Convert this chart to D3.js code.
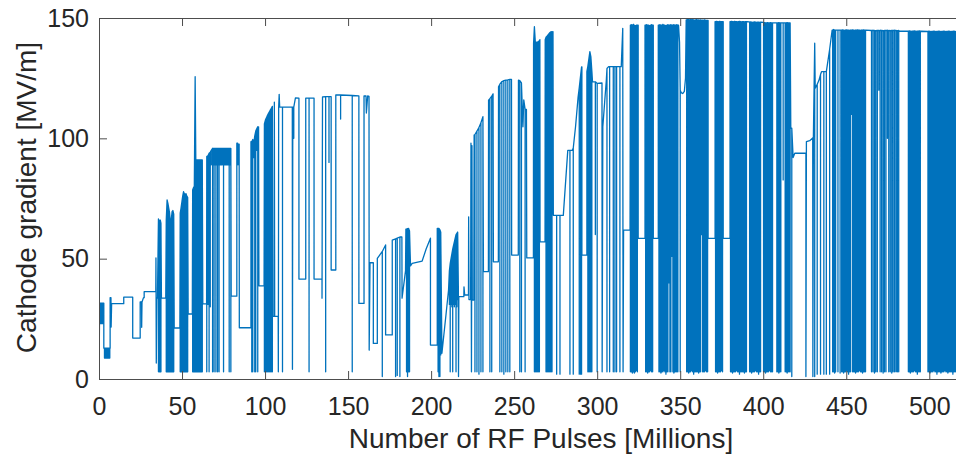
<!DOCTYPE html>
<html><head><meta charset="utf-8">
<script src="https://cdn.jsdelivr.net/npm/d3@7"></script>
<style>body{margin:0;background:#fff;}svg{display:block;}</style>
</head><body>
<svg id="chart" width="956" height="455"></svg>
<script>
// Tick values
const xTicks = [0,50,100,150,200,250,300,350,400,450,500];
const yTicks = [0,50,100,150];
const xLabel = "Number of RF Pulses [Millions]";
const yLabel = "Cathode gradient [MV/m]";

// Trace points: [x, y] or spike [x, yFrom, yTo] (goes yFrom -> yTo -> yFrom)
const era1 = [
[0,1],[0.4,31.5],
[0.7,31.5,23],[1.1,31.5,23],[1.5,31.5,23],[1.9,31.5,23],[2.3,31.5,23],[2.7,31.5,23],
[2.9,31.5],[2.9,12.8],
[3.3,12.8,8.7],[3.7,12.8,8.7],[4.1,12.8,8.7],[4.5,12.8,8.7],[4.9,12.8,8.7],[5.3,12.8,8.7],[5.7,12.8,8.7],[6.1,12.8,8.7],[6.5,12.8,8.7],
[6.7,12.8],[6.7,33.8],[7.2,33.8],[7.3,21.6],[7.6,31.3],[14.9,31.3],[14.9,34],[20.3,34],[20.3,17],[24.8,17],[24.8,32],[25.6,32],[25.7,21.5],[25.9,32],[26.8,33.8],[27.2,33.8],[27.2,36.3],[34.2,36.3],
[34.3,50.3],[34.5,6.6],[34.8,33.6]
];
const era2 = [
[35.2,33.6],[35.8,66.5,3],[36.4,65.5,3],[36.9,66,3],[37.3,64.8,3],[37.6,33.6],[40.2,33.6],
[40.5,66,3],[41.0,74.4,3],[41.5,73,3],[42.0,71,3],[42.5,69,3],[43.0,65,3],[43.5,66,3],[44.0,69.5,3],[44.5,70,3],[45.0,68.5,3],
[45.3,21.2],[48.7,21.2],
[48.9,68.9,3],[49.4,71,3],[49.9,73.5,3],[50.4,76,3],[50.9,77.8,3],[51.4,77,3],[51.9,76.5,3],[52.4,77,3],[52.9,76,3],[53.4,75.5,3],
[53.7,27],[56.2,27],
[56.4,78.5,3],[56.9,79.5,3],[57.4,80,3],[57.9,125.6,3],[58.3,91,3],[58.8,91,3],[59.3,91,3],[59.8,91,3],[60.3,91,3],[60.8,91,3],[61.3,91,3],[61.8,91,3],[62.2,91,3],
[62.5,31.2],[64.8,31.2],
[64.9,92.4,3],[65.6,92.8,31],[66.3,93.8,3],[67.0,94.2,30],[67.6,95,89],[68.4,95.8,3],[68.9,95.8,89],[69.3,95.8,3],[69.8,95.8,89],[70.4,95.8,3],[70.9,95.8,89],[71.4,95.8,3],[71.9,95.8,89],[72.3,95.8,3],[72.8,95.8,89],[73.3,95.8,89],[73.8,95.8,89],[74.3,95.8,89],[75.0,95.8,3],[75.5,95.8,89],[76.0,95.8,89],[76.5,95.8,89],[77.0,95.8,89],[77.5,95.8,89],[78.0,95.8,89],[78.4,95.8,3],[78.9,95.8,89],[79.4,95.8,3],
[79.6,34.4],[83.0,34.4],[83.0,98],[83.5,98],[83.7,89],[84.1,97.6],[84.4,97.6],[84.5,21.3],[91.5,21.3]
];
const era2b = [
[91.5,98.6],[92.0,98.6,3],[92.6,99.5,3],[93.2,98,92],[93.8,101,3],[94.4,103,3],[95.0,104,95],[95.6,104.8,3],[96.1,104.8],
[96.3,38.7],[99.4,38.7],
[99.6,106,3],[100.2,107.6,3],[100.8,108.5,3],[101.4,109.5,3],[102.0,110.3,3],[102.6,111,3],[103.2,111.8,3],[103.8,112.5,3],[104.4,113.3,3],
[104.6,26],[105.5,26],[105.6,115],[105.8,26],[107.9,26],[108.0,3],[108.2,113],[108.5,118.3],[108.8,113],[110.5,113,3],[116.4,113],[116.5,4],[116.7,113],[117.3,113,100],[118.3,116.8],
[120.4,116.7],[120.4,41.5],[124.5,41.5],[124.5,116.7],[126.5,116.7,3],[129.5,116.7],[129.5,41.5],[134.3,41.5],[134.3,33.6],[134.6,117.2],[136.5,117.3,3],[138.5,117.3,90],[139.8,117.3],[139.8,45.3],[142.6,45.3],[142.6,118],[145.5,118,108],[152.5,117.8,3],[156.5,117.6],[156.5,31.4],[159.6,31.4],[159.6,117.6],[160.8,117.6],[161.0,110.5],[161.8,117.6],[162.6,117.4],[162.7,12]
];
const era3 = [
[163.2,48.3],[165.2,48.3],[165.2,14.8],[167.6,14.8],[167.6,50.1],[168.6,51.1],[170.6,53,1],[172.6,55.7],[172.6,18.3],[176.6,18.3],[176.6,57.7],[178.6,58.2,1],[179.6,58.5,1.5],[181.2,59,1],[182.4,59],[182.5,33.6],[184.6,45],[184.8,62.3],[185.2,62.3,3],[185.8,62.5,1],[186.4,62.6,3],[187.0,61.5,3],[187.6,47],[188.6,48],[194.6,49],[197.0,54],[199.6,58.5],[199.6,14.1],[203.7,14.1],[203.7,62.6],[204.2,62.6,3],[204.7,62.6,1],[205.3,62,1],[205.8,61,10],[206.5,10.7],[209.0,27],[210.5,37],
[211.0,45,31],[211.5,48,3],[212.0,50,31],[212.5,52,30],[213.0,54,3],[213.5,55.5,31],[214.0,57,30],[214.5,58.5,31],[215.0,60,3],[215.5,60.5,30],[216.0,61,33],
[216.4,38.3],[216.5,1],[216.7,34.2],[219.7,34.2],[219.8,38.3],[220.2,34.9],[222.5,35],[222.6,67.4],[222.8,33],[223.8,33],[224.0,98],[224.3,3],[224.6,97],[224.8,32.8]
];
const era4 = [
[225.7,32.8],[225.9,101.4],[226.4,101.6,3],[227.6,103,3],[228.8,104.5,2],[230.0,106.5,3],[231.2,109,3],
[231.5,44.6],[234.5,44.6],[234.6,115.9],[235.4,116.5,3],[236.5,117.5,3],[237.3,118.5],
[237.5,48.7],[240.5,48.7],[240.6,121.4],[241.4,122.5,3],[242.6,123.5,3],[243.8,124,2],[245.0,124.2,3],[246.2,124.3,3],[247.4,124.5,3],[248.4,124.5],
[248.5,51.5],[252.5,51.5],[252.6,124.2],[253.4,124,3],[254.4,123,3],[255.3,104.8],[255.8,116],[256.6,112,3],[257.4,112],
[257.6,50.3],[261.6,50.3],[261.7,139.5],[262.2,146.4,3],[262.8,139.5,3],[263.4,140,3],[264.0,139.8,3],[264.6,140.2,3],[265.2,140.5,3],[265.5,141],
[265.6,57],[268.6,57],[268.7,141],[269.2,142,3],[269.8,142.5,3],[270.4,143,3],[271.0,143.5,3],[271.6,144,3],[272.2,144.3,3],[272.8,144.2,3],[273.4,144.3],
[273.6,68],[275.6,68,2],[277.6,68,2],[279.6,68],
[282.3,95],[283.6,95,2],[285.0,95],[285.6,96,2],[287.0,105],[288.5,117],[289.2,121,2],[290.0,126,2],[290.6,129.7,2],[290.8,129.7],
[290.8,51.5],[293.8,51.5],[293.8,127.7],[294.4,130,3],[295.0,133,3],[295.6,136,3],[296.2,134,3],[296.8,128,3],[297.2,123.5],
[298.9,123.5,60],[300.0,122.8,3],[302.9,123],[303.0,3],[303.4,104.8],[304.5,115],[305.5,124],[305.9,129,3],[306.9,129.8],
[307.5,129.8,3],[309.7,129.8,3],[310.7,129.8,3],[311.7,129.8,3],[313.7,129.8,3],[314.5,129.8]
];
const era5 = [
[315.4,145.7],[315.6,3],[315.9,61.9],[319.8,61.9],
[320.0,147,3],[320.6,147.2,3],[321.2,147,2.5],[321.8,147.3,3],[322.4,147,2.5],[323.0,146.8,3],[323.6,147,3.5],[324.2,147,3],
[324.7,147],[324.7,58.4],[328.8,58.4],[328.8,147],
[329.2,147,3],[329.8,147.2,3],[330.4,147,2.5],[331.0,147,3],[331.6,146.8,3],[332.2,147,3.5],[332.8,147.2,3],[333.4,147,3],
[333.8,147],[333.8,58.4],[336.8,58.4],[336.8,147],
[337.2,147,3],[337.8,147.2,3],[338.4,147,2.5],[339.0,147,3],[339.6,147.3,3],[340.2,147,3.5],[340.8,147,3],[341.4,146.8,2],[342.0,147,3],[342.6,147.2,3],[343.2,147,40],[343.8,147,3],[344.4,147.2,3],[345.0,147,51],[345.6,147,3],[346.2,147.2,2.5],[346.8,147,3],[347.4,147,3],[348.0,147.2,3],[348.6,147,3],
[349.0,147],[349.6,140],[350.0,120,3],[350.6,119],[351.5,118.6],[352.5,119.5],[353.2,125],[353.6,149.2],
[353.9,149.2,3],[354.5,149.5,3],[355.1,149.3,2.5],[355.7,149.2,3],[356.3,149.4,3],[356.9,149.2,3.5],[357.5,149.3,3],[358.1,149.2,2],[358.7,149,3],[359.3,149.2,3],[359.9,149.3,3],[360.5,149.1,3],[361.1,149.2,2.5],[361.7,149,3],[362.3,149.2,3],[362.9,149,60],[363.5,149.1,3],[364.1,149,3],[364.7,149.2,3],[365.3,149,3.5],[365.9,149,3],[366.5,149,3],
[366.8,149],[366.8,58.4],[371.0,58.4],[371.0,148.5],
[371.3,148.5,3],[371.9,148.6,3],[372.5,148.5,2.5],[373.1,148.4,3],[373.7,148.6,3],[374.3,148.5,3],[374.9,148.5,3.5],[375.5,148.5,3],
[375.9,148.5],[375.9,58.4],[380.0,58.4],[380.0,148.5],
[380.3,148.5,3],[380.9,148.6,3],[381.5,148.5,2.5],[382.1,148.4,3],[382.7,148.6,3],[383.3,148.5,3],[383.9,148.5,3.5],[384.5,148.4,3],[385.1,148.5,3],[385.7,148.6,2],[386.3,148.5,3],[386.9,148.4,3],[387.5,148.5,3],[388.1,148.5,3],[388.7,148.4,2.5],[389.3,148.5,3],[389.9,148.5,3],
[390.2,148.5],[391.5,148.4],
[391.8,148.3,3],[392.4,148.4,3],[393.0,148.3,2.5],[393.6,148.2,3],[394.2,148.3,3],[394.8,148.4,3],[395.4,148.3,3.5],[396.0,148.2,3],[396.6,148.3,3],[397.2,148.3,2],[397.8,148.2,3],[398.4,148.3,3],
[398.6,148.3],[400.0,148.2],
[400.2,148,3],[400.8,148.1,3],[401.4,148,2.5],[402.0,148,3],[402.6,148.1,3],[403.2,148,3],[403.8,148,3.5],[404.4,148.1,3],[405.0,148,3],[405.6,148,3],
[405.9,148],[408.0,148],
[408.2,148,3],[408.8,148,3],[409.4,148.1,2.5],[410.0,148,3],[410.6,148,3],
[411.0,148],[412.0,148,82.7],[413.0,148],
[413.2,148,3],[413.8,148,3],[414.4,148.1,2.5],[415.0,148,3],[415.6,148,3],
[416.2,148,3],[416.6,104.2],[417.2,104.2,1],[418.0,92],[419.0,93.8],[425.7,93.8],[425.7,1],[426.0,98.6],[428.0,99],[429.8,100.2],[429.9,1],[430.2,100.2],[431.0,139.5,1],[431.3,120.8],[432.5,122.5,2],[433.5,124],[434.5,126.5,2],[435.1,127.7],[436.5,127.7,2],[438.0,127.7,2],[440.0,137,2],[441.5,145]
];
const era6 = [
[441.8,145,3],[442.4,145.2,3],[443.0,145,2.5],[443.6,145,3],
[445.0,145,3],[446.3,145,2.5],
[447.2,145,3],[447.8,145.1,3],[448.4,145,2.5],[449.0,144.9,3],[449.6,145,3],[450.2,145.1,3.5],[450.8,145,3],[451.4,145,2],[452.0,144.9,3],[452.6,145,3],[453.2,145,110],[453.8,145.1,3],[454.4,145,3],[455.0,144.9,3],[455.6,145,2.5],[456.2,145,3],[456.8,145.1,3],[457.4,145,3],[458.0,145,3.5],[458.6,144.9,3],[459.2,145,3],[459.8,145,2.5],[460.4,145.1,3],[461.0,145,3],[461.6,145,3],
[462.0,145],[465.0,144.8],
[465.2,144.8,3],[466.1,144.9,3],[467.0,144.8,2.5],[467.8,144.7,3],[468.7,144.8,3],[469.6,144.8,120],[470.4,144.9,3],[471.3,144.8,3],[472.2,144.7,2.5],[473.0,144.8,3],[473.9,144.8,3],[474.8,144.9,100],[475.6,144.8,3],[476.5,144.7,3],[477.4,144.8,2.5],[478.2,144.8,3],[479.1,144.9,3],[480.0,144.8,3],[480.8,144.7,3],[481.6,144.8,3],
[482.0,144.6],[487.0,144.5],
[487.4,144.5,3],[488.0,144.6,3],[488.6,144.5,2.5],[489.2,144.4,3],[489.8,144.5,3],[490.4,144.5,3],[491.0,144.6,3.5],[491.6,144.5,3],[492.2,144.4,3],[492.8,144.5,2],[493.4,144.5,3],[494.0,144.6,3],[494.6,144.5,3],
[495.0,144.5],[499.0,144.4],
[499.2,144.4,3],[499.8,144.5,3],[500.4,144.4,2.5],[501.0,144.3,3],[501.6,144.4,3],[502.2,144.4,3],[502.8,144.5,3.5],[503.4,144.4,3],[504.0,144.3,3],[504.6,144.4,2],[505.2,144.4,3],[505.8,144.5,3],[506.4,144.4,3],[507.0,144.3,2.5],[507.6,144.4,3],[508.2,144.4,3],[508.8,144.5,3],[509.4,144.4,3.5],[510.0,144.3,3],[510.6,144.4,3],[511.2,144.4,2.5],[511.8,144.5,3],[512.4,144.4,3],[513.0,144.3,3],[513.6,144.4,3],[514.2,144.4,2],[514.8,144.5,3],[515.4,144.4,3],[516.0,144.3,3],[516.6,144.4,3],[517.2,144.4,2.5],[517.8,144.4,3]
];

const trace = [].concat(era1, era2, era2b, era3, era4, era5, era6);
const points = [];
trace.forEach(d => {
  if (d.length === 3) { points.push([d[0], d[1]], [d[0], d[2]], [d[0], d[1]]); }
  else points.push([d[0], d[1]]);
});

const svg = d3.select('#chart');
const FONT = '"Liberation Sans", Arial, Helvetica, sans-serif';
const x = d3.scaleLinear().domain([0, 520]).range([99, 962.5]);
const y = d3.scaleLinear().domain([0, 150]).range([379, 18]);

svg.append('defs').append('clipPath').attr('id', 'clip')
  .append('rect').attr('x', x(0)).attr('y', y(150) - 1).attr('width', x(520) - x(0)).attr('height', y(0) - y(150) + 1);

svg.append('path')
  .datum(points)
  .attr('clip-path', 'url(#clip)')
  .attr('fill', 'none')
  .attr('stroke', '#0072BD')
  .attr('stroke-width', 1.3)
  .attr('stroke-linejoin', 'round')
  .attr('d', d3.line().x(d => x(d[0])).y(d => y(d[1])));

const axisColor = '#4d4d4d';
function styleAxis(g) {
  g.attr('font-family', FONT).attr('font-size', 25);
  g.select('.domain').attr('stroke', axisColor);
  g.selectAll('.tick line').attr('stroke', axisColor);
  g.selectAll('.tick text').attr('fill', '#262626');
}

svg.append('g').attr('transform', `translate(0,${y(0)})`)
  .call(d3.axisBottom(x).tickValues(xTicks).tickSizeInner(-8).tickSizeOuter(0).tickPadding(36))
  .call(styleAxis)
  .call(g => g.selectAll('.tick text').attr('dy', null).attr('y', 36));

svg.append('g').attr('transform', `translate(0,${y(150)})`)
  .call(d3.axisTop(x).tickValues(xTicks).tickSizeInner(-8).tickSizeOuter(0).tickFormat(() => ''))
  .call(styleAxis);

svg.append('g').attr('transform', `translate(${x(0)},0)`)
  .call(d3.axisLeft(y).tickValues(yTicks).tickSizeInner(-8).tickSizeOuter(0).tickPadding(10))
  .call(styleAxis);

svg.append('text')
  .attr('x', 541).attr('y', 448)
  .attr('text-anchor', 'middle')
  .attr('font-family', FONT).attr('font-size', 28).attr('fill', '#262626')
  .text(xLabel);

svg.append('text')
  .attr('transform', 'translate(35.5,197.5) rotate(-90)')
  .attr('text-anchor', 'middle')
  .attr('font-family', FONT).attr('font-size', 28).attr('fill', '#262626')
  .text(yLabel);
</script>
</body></html>
